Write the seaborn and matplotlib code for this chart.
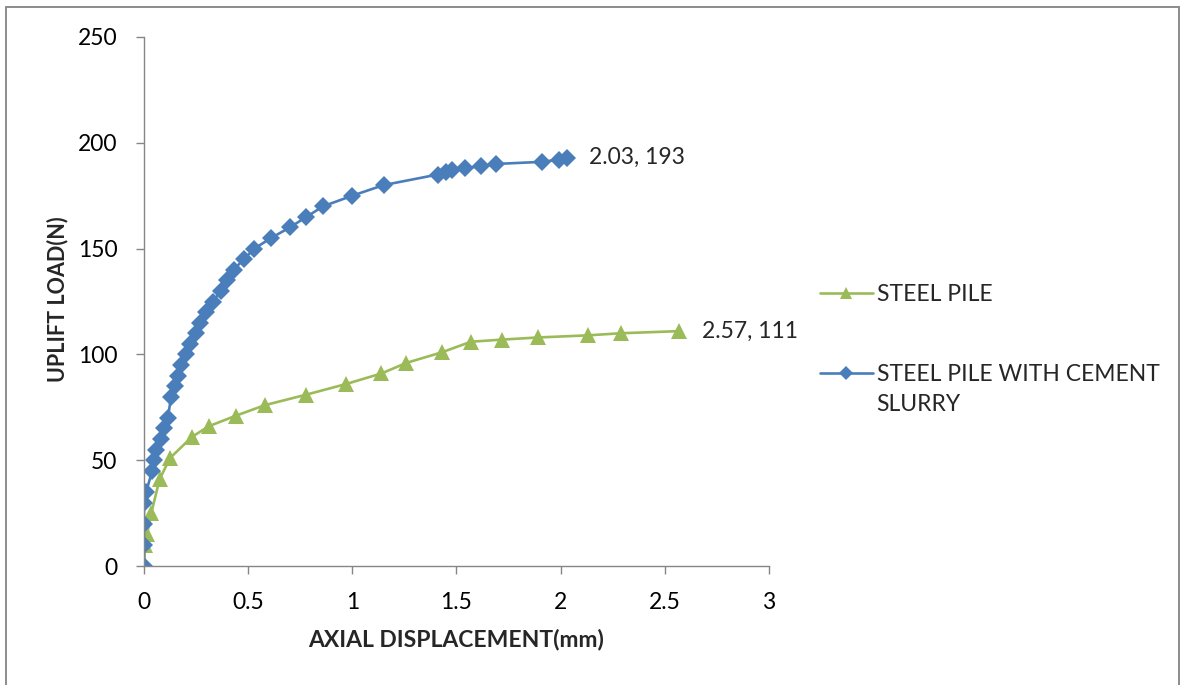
import matplotlib
matplotlib.use("Agg")
import matplotlib.pyplot as plt
import seaborn as sns
import pandas as pd
from matplotlib.lines import Line2D

# Load test readings: axial displacement (mm) vs uplift load (N)
steel_disp = [0, 0.005, 0.015, 0.035, 0.075, 0.125, 0.23, 0.31, 0.44, 0.58, 0.78,
              0.97, 1.14, 1.26, 1.43, 1.57, 1.72, 1.89, 2.13, 2.29, 2.57]
steel_load = [0, 10, 15, 25, 41, 51, 61, 66, 71, 76, 81,
              86, 91, 96, 101, 106, 107, 108, 109, 110, 111]

slurry_disp = [0, 0, 0, 0, 0.01, 0.04, 0.05, 0.06, 0.08, 0.095, 0.115, 0.13, 0.15,
               0.165, 0.18, 0.20, 0.22, 0.25, 0.27, 0.30, 0.33, 0.37, 0.40, 0.43,
               0.48, 0.53, 0.61, 0.70, 0.78, 0.86, 1.0, 1.15, 1.41, 1.45, 1.48,
               1.54, 1.62, 1.69, 1.91, 1.99, 2.03]
slurry_load = [0, 10, 20, 30, 35, 45, 50, 55, 60, 65, 70, 80, 85,
               90, 95, 100, 105, 110, 115, 120, 125, 130, 135, 140,
               145, 150, 155, 160, 165, 170, 175, 180, 185, 186, 187,
               188, 189, 190, 191, 192, 193]

series_names = ["STEEL PILE", "STEEL PILE WITH CEMENT"]
series_second_line = "SLURRY"
x_ticks = [0, 0.5, 1, 1.5, 2, 2.5, 3]
x_tick_labels = ["0", "0.5", "1", "1.5", "2", "2.5", "3"]
y_ticks = [0, 50, 100, 150, 200, 250]

df = pd.concat([
    pd.DataFrame({"disp": steel_disp, "load": steel_load, "series": series_names[0]}),
    pd.DataFrame({"disp": slurry_disp, "load": slurry_load, "series": series_names[1]}),
], ignore_index=True)

sns.set_style("white")
plt.rcParams["font.family"] = ["Lato", "DejaVu Sans"]

GREEN = "#9BBB59"
BLUE = "#4A7EBB"
AXIS_GRAY = "#868686"
FS = 16.5

fig = plt.figure(figsize=(11.81, 6.85), dpi=100)
ax = fig.add_axes([0.1219, 0.1737, 0.5292, 0.7723])

sns.lineplot(
    data=df, x="disp", y="load", hue="series", style="series",
    palette={series_names[0]: GREEN, series_names[1]: BLUE},
    markers={series_names[0]: "^", series_names[1]: "D"},
    dashes=False, estimator=None, sort=False, linewidth=1.9,
    markersize=9.5, markeredgewidth=0, ax=ax, legend=False,
)
# Triangles read smaller than diamonds at equal size; enlarge them
for ln in ax.lines:
    if ln.get_marker() == "^":
        ln.set_markersize(12)

ax.set_xlim(0, 3)
ax.set_ylim(0, 250)
ax.set_xticks(x_ticks)
ax.set_xticklabels(x_tick_labels)
ax.set_yticks(y_ticks)
ax.tick_params(axis="both", which="both", direction="out", length=6, width=1,
               color=AXIS_GRAY, labelsize=FS, labelcolor="black", pad=13,
               bottom=True, left=True)
for side in ("top", "right"):
    ax.spines[side].set_visible(False)
for side in ("left", "bottom"):
    ax.spines[side].set_color(AXIS_GRAY)
    ax.spines[side].set_linewidth(1)

ax.set_xlabel("AXIAL DISPLACEMENT(mm)", fontsize=FS, fontweight="bold", labelpad=11)
ax.set_ylabel("UPLIFT LOAD(N)", fontsize=15.5, fontweight="bold")
ax.yaxis.set_label_coords(-0.1376, 0.505)
ax.yaxis.label.set_rotation_mode("default")
ax.yaxis.label.set_ha("center")
ax.yaxis.label.set_va("center")

# End-point value labels
ax.annotate(f"{slurry_disp[-1]:.2f}, {slurry_load[-1]}", (slurry_disp[-1], slurry_load[-1]),
            xytext=(16, 0), textcoords="offset points", va="center", fontsize=FS)
ax.annotate(f"{steel_disp[-1]:.2f}, {steel_load[-1]}", (steel_disp[-1], steel_load[-1]),
            xytext=(16, 0), textcoords="offset points", va="center", fontsize=FS)

handles = [
    Line2D([], [], color=GREEN, linewidth=1.9, marker="^", markersize=9, markeredgewidth=0),
    Line2D([], [], color=BLUE, linewidth=1.9, marker="D", markersize=7, markeredgewidth=0),
]
leg = ax.legend(handles, series_names, loc="center left",
                bbox_to_anchor=(0.6768, 0.5117), bbox_transform=fig.transFigure,
                frameon=False, fontsize=FS, handlelength=2.3, handletextpad=0.2,
                labelspacing=2.57)
# Wrapped remainder of the second legend label
fig.text(0.7417, 0.4102, series_second_line, fontsize=FS, ha="left", va="center")

# Chart frame (left, top and right edges)
frame_kw = dict(transform=fig.transFigure, color="#8c8c8c", linewidth=1.4)
fig.add_artist(Line2D([0.0047, 0.0047], [0.0, 0.9898], **frame_kw))
fig.add_artist(Line2D([0.0047, 0.9983], [0.9898, 0.9898], **frame_kw))
fig.add_artist(Line2D([0.9983, 0.9983], [0.0, 0.9898], **frame_kw))

fig.savefig("out.png", dpi=100, facecolor="white")
